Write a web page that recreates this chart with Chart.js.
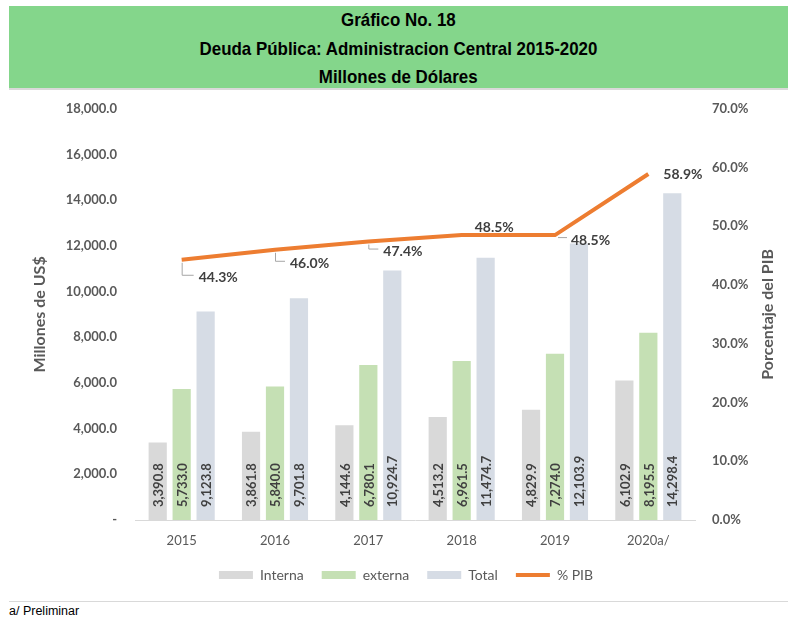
<!DOCTYPE html>
<html>
<head>
<meta charset="utf-8">
<script src="https://cdn.jsdelivr.net/npm/chart.js@4"></script>
<style>
  body { margin: 0; background: #fff; width: 788px; height: 622px; position: relative; overflow: hidden; }
  .title {
    position: absolute; left: 9px; top: 6px; width: 779px; height: 82px;
    background: #84D68B; border-bottom: 2px solid #d9d9d9;
    font-family: "Liberation Sans Narrow", "Arial Narrow", "Liberation Sans", Arial, sans-serif;
    font-weight: bold; font-size: 19px; color: #000; text-align: center; line-height: 28.5px;
  }
  .title span { display: inline-block; transform: scaleX(0.89); white-space: nowrap; }
  .wrap { position: absolute; left: 0; top: 91px; width: 788px; height: 505px; }
  .rule { position: absolute; left: 9px; right: 0; top: 601px; border-top: 1px solid #d9d9d9; }
  .note { position: absolute; left: 9px; top: 604px; font-family: "Liberation Sans", Arial, sans-serif; font-size: 12.5px; color: #000; }
</style>
</head>
<body>
<div class="title"><span>Gráfico No. 18</span><br><span>Deuda Pública: Administracion Central 2015-2020</span><br><span>Millones de Dólares</span></div>
<div class="wrap"><canvas id="chart" width="788" height="505"></canvas></div>
<div class="rule"></div>
<div class="note">a/ Preliminar</div>
<script>
const years = ["2015", "2016", "2017", "2018", "2019", "2020a/"];
const interna = [3390.8, 3861.8, 4144.6, 4513.2, 4829.9, 6102.9];
const externa = [5733.0, 5840.0, 6780.1, 6961.5, 7274.0, 8195.5];
const total = [9123.8, 9701.8, 10924.7, 11474.7, 12103.9, 14298.4];
const pib = [44.3, 46.0, 47.4, 48.5, 48.5, 58.9];

// where each % label sits relative to its point (dx, dy) and whether it gets a leader line
const pibLabelPos = [
  { dx: 17, dy: 18, leader: true },
  { dx: 15, dy: 14, leader: true },
  { dx: 15, dy: 10, leader: true },
  { dx: 13, dy: -8, leader: false },
  { dx: 16, dy: 5, leader: true },
  { dx: 15, dy: 0, leader: false }
];

const FONT = "Lato, 'Open Sans', sans-serif";
const GREY = "#595959";

const fmt = v => v.toLocaleString("en-US", { minimumFractionDigits: 1, maximumFractionDigits: 1 });

const labelPlugin = {
  id: "labels",
  afterUpdate(chart) {
    // legend in the reference sits a bit right of centre
    chart.legend.left += 12;
    chart.legend.right += 12;
  },
  afterDraw(chart) {
    // right axis title reads bottom-to-top like the left one
    const ctx = chart.ctx, a = chart.chartArea;
    ctx.save();
    ctx.translate(768, (a.top + a.bottom) / 2);
    ctx.rotate(-Math.PI / 2);
    ctx.font = "bold 16px " + FONT;
    ctx.fillStyle = GREY;
    ctx.textAlign = "center";
    ctx.textBaseline = "middle";
    ctx.fillText("Porcentaje del PIB", 0, 0);
    ctx.restore();
  },
  afterDatasetsDraw(chart) {
    const ctx = chart.ctx;
    const base = chart.scales.y.getPixelForValue(0);
    ctx.save();
    ctx.fillStyle = "#404040";
    ctx.font = "bold 13px " + FONT;
    chart.data.datasets.forEach((ds, di) => {
      if (ds.type === "line") return;
      chart.getDatasetMeta(di).data.forEach((el, i) => {
        ctx.save();
        ctx.translate(el.x, base - 13);
        ctx.rotate(-Math.PI / 2);
        ctx.textAlign = "left";
        ctx.textBaseline = "middle";
        ctx.fillText(fmt(ds.data[i]), 0, 1);
        ctx.restore();
      });
    });
    const li = chart.data.datasets.findIndex(d => d.type === "line");
    chart.getDatasetMeta(li).data.forEach((pt, i) => {
      const p = pibLabelPos[i];
      const lx = pt.x + p.dx, ly = pt.y + p.dy;
      if (p.leader) {
        ctx.strokeStyle = "#a6a6a6";
        ctx.lineWidth = 1;
        ctx.beginPath();
        if (p.dy > 6) {
          ctx.moveTo(pt.x + 0.5, pt.y + 3);
          ctx.lineTo(pt.x + 0.5, ly - 2.5);
          ctx.lineTo(lx - 5, ly - 2.5);
        } else {
          ctx.moveTo(pt.x + 3, pt.y + 2.5);
          ctx.lineTo(lx - 4, pt.y + 2.5);
        }
        ctx.stroke();
      }
      ctx.fillStyle = "#404040";
      ctx.font = "bold 14px " + FONT;
      ctx.textAlign = "left";
      ctx.textBaseline = "middle";
      ctx.fillText(pib[i].toFixed(1) + "%", lx, ly);
    });
    ctx.restore();
  }
};

new Chart(document.getElementById("chart"), {
  data: {
    labels: years,
    datasets: [
      { type: "line", label: "% PIB", data: pib, yAxisID: "y1", order: 0,
        borderColor: "#ED7D31", backgroundColor: "#ED7D31", borderWidth: 4,
        pointRadius: 0, pointStyle: "line", tension: 0 },
      { type: "bar", label: "Interna", data: interna, backgroundColor: "#D9D9D9", order: 1, pointStyle: "rect" },
      { type: "bar", label: "externa", data: externa, backgroundColor: "#C5E0B4", order: 1, pointStyle: "rect" },
      { type: "bar", label: "Total", data: total, backgroundColor: "#D6DCE5", order: 1, pointStyle: "rect" }
    ]
  },
  options: {
    responsive: false,
    animation: false,
    datasets: { bar: { categoryPercentage: 0.77, barPercentage: 0.76 } },
    layout: { padding: { top: 10, bottom: 4, left: 0, right: 0 } },
    plugins: {
      legend: {
        position: "bottom",
        labels: {
          sort: (a, b) => (a.datasetIndex === 0) - (b.datasetIndex === 0),
          usePointStyle: true, pointStyleWidth: 34, boxHeight: 8,
          padding: 18, color: GREY, font: { family: FONT, size: 14 }
        }
      },
      tooltip: { enabled: false }
    },
    scales: {
      x: {
        grid: { display: false },
        border: { display: true, color: "#D9D9D9", width: 1 },
        ticks: { color: GREY, padding: 5, font: { family: FONT, size: 13 } },
        afterFit: s => { s.height = 30; }
      },
      y: {
        position: "left", min: 0, max: 18000,
        grid: { display: false }, border: { display: false },
        ticks: { stepSize: 2000, padding: 10, color: GREY, font: { family: FONT, size: 13, weight: "bold" },
          callback: v => v === 0 ? "-" : fmt(v) },
        title: { display: true, text: "Millones de US$", color: GREY, padding: { top: 30, bottom: 0 },
          font: { family: FONT, size: 16, weight: "bold" } },
        afterFit: s => { s.width = 135; }
      },
      y1: {
        position: "right", min: 0, max: 70,
        grid: { display: false }, border: { display: false },
        ticks: { stepSize: 10, padding: 9, color: GREY, font: { family: FONT, size: 13, weight: "bold" },
          callback: v => v.toFixed(1) + "%" },
        title: { display: false },
        afterFit: s => { s.width = 93; }
      }
    }
  },
  plugins: [labelPlugin]
});
</script>
</body>
</html>
